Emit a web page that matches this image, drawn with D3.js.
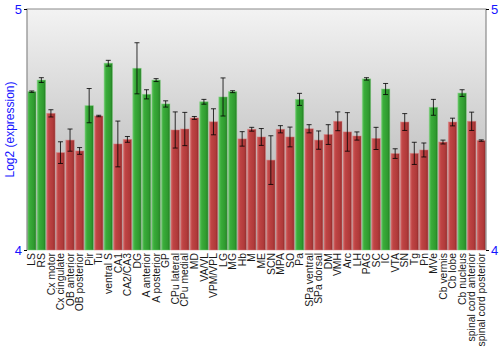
<!DOCTYPE html>
<html>
<head>
<meta charset="utf-8">
<script src="https://cdn.jsdelivr.net/npm/d3@7"></script>
<style>
  html, body { margin: 0; padding: 0; background: #fff; }
  svg { display: block; }
  text { font-family: "Liberation Sans", Arial, sans-serif; }
</style>
</head>
<body>
<svg id="chart" width="500" height="350"></svg>
<script>
// Brain regions, in plotting order
const regions = [
  "LS", "RS", "Cx motor", "Cx cingulate", "OB anterior", "OB posterior", "Pir", "Tu",
  "ventral S", "CA1", "CA2/CA3", "DG", "A anterior", "A posterior", "GP", "CPu lateral",
  "CPu medial", "MD", "VA/VL", "VPM/VPL", "LG", "MG", "Hb", "M", "ME", "SCN", "MPA", "SO",
  "Pa", "SPa ventral", "SPa dorsal", "DM", "VMH", "Arc", "LH", "PAG", "SC", "IC", "VTA",
  "SN", "Tg", "Pn", "MVe", "Cb vermis", "Cb lobe", "Cb nucleus",
  "spinal cord anterior", "spinal cord posterior"
];

// Mean log2 expression per region
const expression = [
  4.657, 4.705, 4.567, 4.404, 4.456, 4.411, 4.599, 4.556,
  4.775, 4.440, 4.459, 4.754, 4.646, 4.705, 4.606, 4.498,
  4.502, 4.548, 4.615, 4.532, 4.635, 4.657, 4.461, 4.501, 4.469, 4.373, 4.501, 4.469,
  4.625, 4.503, 4.456, 4.479, 4.534, 4.490, 4.473, 4.710, 4.463, 4.668, 4.400,
  4.531, 4.401, 4.415, 4.592, 4.448, 4.531, 4.651,
  4.534, 4.454
];

// Half-width of the error bar (same units)
const errors = [
  0.003, 0.010, 0.015, 0.045, 0.046, 0.014, 0.071, 0.003,
  0.012, 0.095, 0.012, 0.106, 0.019, 0.006, 0.013, 0.075,
  0.069, 0.006, 0.010, 0.054, 0.079, 0.004, 0.030, 0.008, 0.035, 0.101, 0.015, 0.041,
  0.025, 0.017, 0.038, 0.041, 0.039, 0.080, 0.017, 0.005, 0.046, 0.023, 0.020,
  0.035, 0.046, 0.029, 0.033, 0.008, 0.016, 0.014,
  0.038, 0.003
];

// Above (up) or below (down) overall average
const direction = [
  "up", "up", "down", "down", "down", "down", "up", "down",
  "up", "down", "down", "up", "up", "up", "up", "down",
  "down", "down", "up", "down", "up", "up", "down", "down", "down", "down", "down", "down",
  "up", "down", "down", "down", "down", "down", "down", "up", "down", "up", "down",
  "down", "down", "down", "up", "down", "down", "up",
  "down", "down"
];

const yTicks = [4, 5];
const yTitle = "Log2 (expression)";

const svg = d3.select("#chart");
const plotL = 27, plotR = 486, plotT = 9, plotB = 250;

const x = d3.scaleBand().domain(regions).range([plotL, plotR]).paddingInner(0.12).paddingOuter(0.06);
const y = d3.scaleLinear().domain([4, 5]).range([plotB, plotT]);

const defs = svg.append("defs");

const bg = defs.append("linearGradient").attr("id", "bg").attr("x1", 0).attr("y1", 0).attr("x2", 0).attr("y2", 1);
bg.append("stop").attr("offset", "0%").attr("stop-color", "#f3f3f3");
bg.append("stop").attr("offset", "100%").attr("stop-color", "#a9a9a9");

function barGradient(id, stops) {
  const g = defs.append("linearGradient").attr("id", id).attr("x1", 0).attr("y1", 0).attr("x2", 1).attr("y2", 0);
  stops.forEach(([o, c]) => g.append("stop").attr("offset", o).attr("stop-color", c));
}
barGradient("gUp", [["0%", "#62c462"], ["25%", "#3aac3a"], ["75%", "#2f9a2f"], ["100%", "#237a23"]]);
barGradient("gDown", [["0%", "#d46868"], ["25%", "#bf4444"], ["75%", "#b03a3a"], ["100%", "#8f2a2a"]]);

// plot background
svg.append("rect").attr("x", plotL).attr("y", plotT).attr("width", plotR - plotL).attr("height", plotB - plotT)
  .attr("fill", "url(#bg)");

// bars
const bars = svg.append("g");
regions.forEach((r, i) => {
  const up = direction[i] === "up";
  bars.append("rect")
    .attr("x", x(r)).attr("y", y(expression[i]))
    .attr("width", x.bandwidth()).attr("height", y(4) - y(expression[i]))
    .attr("fill", up ? "url(#gUp)" : "url(#gDown)")
    .attr("stroke", up ? "#7fd07f" : "#d88080")
    .attr("stroke-opacity", 0.6)
    .attr("stroke-width", 0.8);
});

// error bars
const err = svg.append("g").attr("stroke", "#000").attr("stroke-width", 1).attr("stroke-opacity", 0.8);
regions.forEach((r, i) => {
  const cx = x(r) + x.bandwidth() / 2;
  const y1 = y(expression[i] + errors[i]), y2 = y(expression[i] - errors[i]);
  err.append("line").attr("x1", cx).attr("x2", cx).attr("y1", y1).attr("y2", y2);
  err.append("line").attr("x1", cx - 2.5).attr("x2", cx + 2.5).attr("y1", y1).attr("y2", y1);
  err.append("line").attr("x1", cx - 2.5).attr("x2", cx + 2.5).attr("y1", y2).attr("y2", y2);
});

// frame
svg.append("path")
  .attr("d", `M${plotL},${plotB}V${plotT}H${plotR}V${plotB}`)
  .attr("fill", "none").attr("stroke", "#8a8a8a").attr("stroke-width", 1.2);

// axes
const axisL = d3.axisLeft(y).tickValues(yTicks).tickFormat(d3.format("d")).tickSize(3).tickPadding(2);
const axisR = d3.axisRight(y).tickValues(yTicks).tickFormat(d3.format("d")).tickSize(3).tickPadding(2);
[[axisL, plotL], [axisR, plotR]].forEach(([ax, px]) => {
  const g = svg.append("g").attr("transform", `translate(${px},0)`).call(ax);
  g.select(".domain").remove();
  g.selectAll("line").attr("stroke", "#000");
  g.selectAll("text").attr("fill", "#1515ff").attr("font-size", 13)
    .style("font-family", "'Liberation Sans', Arial, sans-serif");
});

// category labels
const xl = svg.append("g");
regions.forEach(r => {
  const cx = x(r) + x.bandwidth() / 2;
  xl.append("text")
    .attr("transform", `translate(${cx + 3.7},${plotB + 3}) rotate(-90)`)
    .attr("text-anchor", "end")
    .attr("font-size", 10.4)
    .attr("fill", "#1a1a1a")
    .text(r);
});

// y title
svg.append("text")
  .attr("transform", `translate(13.5,${(plotT + plotB) / 2}) rotate(-90)`)
  .attr("text-anchor", "middle")
  .attr("font-size", 12)
  .attr("fill", "#1515ff")
  .text(yTitle);
</script>
</body>
</html>
